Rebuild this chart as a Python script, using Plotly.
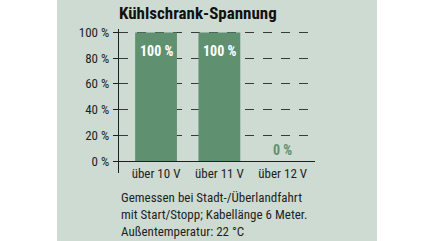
import plotly.graph_objects as go

categories = ["über 10 V", "über 11 V", "über 12 V"]
values = [100, 100, 0]
y_ticks = [0, 20, 40, 60, 80, 100]
y_tick_labels = ["0 %", "20 %", "40 %", "60 %", "80 %", "100 %"]
title_text = "Kühlschrank-Spannung"
note_text = "Gemessen bei Stadt-/Überlandfahrt<br>mit Start/Stopp; Kabellänge 6 Meter.<br>Außentemperatur: 22 °C"

FONT = "Liberation Sans Narrow, Roboto Condensed, DejaVu Sans Condensed, sans-serif"
BAR = "#5f9171"
PANEL = "#cddbd2"
INK = "#1f1f1f"

W, H = 430, 241
L, R, T, B = 119, 115, 29, 68
ph = H - T - B
pw = W - L - R

fig = go.Figure()
fig.add_trace(go.Bar(
    x=categories, y=values, width=0.66,
    marker=dict(color=BAR, line=dict(width=0)),
    hoverinfo="skip",
))

for c, v in zip(categories, values):
    if v > 0:
        fig.add_annotation(x=c, y=v, text=f"<b>{v} %</b>", showarrow=False,
                           yshift=-19, font=dict(family=FONT, size=14, color="white"))
    else:
        fig.add_annotation(x=c, y=v, text=f"<b>{v} %</b>", showarrow=False,
                           yshift=11, font=dict(family=FONT, size=14, color=BAR))

zero_pos = (H - B - 161) / ph

fig.update_layout(
    width=W, height=H,
    margin=dict(l=L, r=R, t=T, b=B, pad=0),
    paper_bgcolor="white", plot_bgcolor="rgba(0,0,0,0)",
    showlegend=False,
    font=dict(family=FONT, color=INK, size=13),
    title=dict(text=f"<b>{title_text}</b>", x=0, xref="paper", xanchor="left",
               y=1 - 13 / H, yanchor="middle", yref="container",
               font=dict(family=FONT, size=17, color="#111")),
    xaxis=dict(range=[-0.585, 2.51], anchor="free", position=zero_pos,
               showline=True, linecolor=INK, linewidth=1.3,
               ticks="", showgrid=False, zeroline=False,
               tickfont=dict(family=FONT, size=13, color=INK)),
    yaxis=dict(range=[-9.3, 102.7], tickvals=y_ticks, ticktext=y_tick_labels,
               showline=True, linecolor=INK, linewidth=1.3,
               ticks="outside", ticklen=5, tickcolor=INK, tickwidth=1.3,
               showgrid=True, gridcolor="#3a3a3a", gridwidth=1, griddash="dash",
               zeroline=False, ticklabelstandoff=1,
               tickfont=dict(family=FONT, size=13, color=INK)),
    shapes=[dict(type="rect", xref="paper", yref="paper",
                 x0=(57 - L) / pw, x1=(377 - L) / pw,
                 y0=-(H - (H - B)) / ph, y1=(H - B) / ph,
                 fillcolor=PANEL, line=dict(width=0), layer="below")],
)

fig.add_annotation(xref="paper", yref="paper", x=0, y=-(196 - 8 - (H - B)) / ph,
                   xanchor="left", yanchor="top", align="left", showarrow=False,
                   text=note_text, font=dict(family=FONT, size=13, color=INK))

fig.write_html("out.html")
